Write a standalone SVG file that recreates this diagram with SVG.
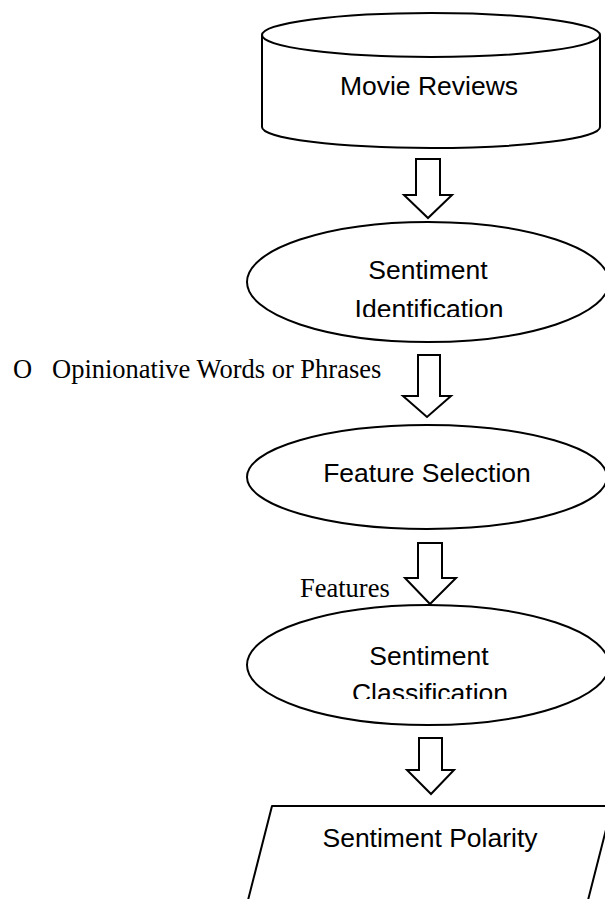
<svg xmlns="http://www.w3.org/2000/svg" width="605" height="899" viewBox="0 0 605 899">
  <style>
    .shape { fill: #ffffff; stroke: #000000; stroke-width: 2; stroke-linejoin: round; }
    .arrow { fill: #ffffff; stroke: #000000; stroke-width: 2; stroke-linejoin: miter; }
    .node-text { font-family: "Liberation Sans", Arial, sans-serif; font-size: 26.5px; fill: #000000; text-anchor: middle; }
    .label { font-family: "Liberation Serif", "Times New Roman", serif; font-size: 26.5px; fill: #000000; }
  </style>
  <defs>
    <!-- text frames inside the two-line ellipses cut off the second line -->
    <clipPath id="clip-ident"><rect x="240" y="240" width="380" height="77"/></clipPath>
    <clipPath id="clip-class"><rect x="240" y="625" width="380" height="74"/></clipPath>
  </defs>

  <rect width="605" height="899" fill="#ffffff"/>

  <!-- Data source: cylinder -->
  <g id="movie-reviews">
    <path class="shape" d="M262,35 V127 A169,21 0 0 0 600,127 V35"/>
    <ellipse class="shape" cx="431" cy="35" rx="169" ry="22"/>
    <text class="node-text" x="429" y="95">Movie Reviews</text>
  </g>

  <!-- Process: sentiment identification -->
  <g id="sentiment-identification">
    <ellipse class="shape" cx="428" cy="282" rx="181" ry="60"/>
    <g clip-path="url(#clip-ident)">
      <text class="node-text" x="428" y="279">Sentiment</text>
      <text class="node-text" x="429" y="318">Identification</text>
    </g>
  </g>

  <!-- Process: feature selection -->
  <g id="feature-selection">
    <ellipse class="shape" cx="427" cy="477" rx="180" ry="52"/>
    <text class="node-text" x="427" y="482">Feature Selection</text>
  </g>

  <!-- Process: sentiment classification -->
  <g id="sentiment-classification">
    <ellipse class="shape" cx="428" cy="665" rx="181" ry="60"/>
    <g clip-path="url(#clip-class)">
      <text class="node-text" x="429" y="665">Sentiment</text>
      <text class="node-text" x="430" y="702">Classification</text>
    </g>
  </g>

  <!-- Output: parallelogram -->
  <g id="sentiment-polarity">
    <polygon class="shape" points="272,806 612,806 585,912 245,912"/>
    <text class="node-text" x="430" y="847">Sentiment Polarity</text>
  </g>

  <!-- Block arrows between stages, with their labels -->
  <g id="connectors">
    <path class="arrow" d="M416,159 H440 V195 H452 L428,218 L404,195 H416 Z"/>
    <path class="arrow" d="M418,355 H440 V396 H451 L427,417 L403,396 H418 Z"/>
    <path class="arrow" d="M418,543 H442 V578 H456 L430,604 L405,578 H418 Z"/>
    <path class="arrow" d="M419,738 H442 V770 H454 L431,794 L407,770 H419 Z"/>
    <text class="label" x="13" y="378">O<tspan x="52">Opinionative Words or Phrases</tspan></text>
    <text class="label" x="300" y="597">Features</text>
  </g>
</svg>
